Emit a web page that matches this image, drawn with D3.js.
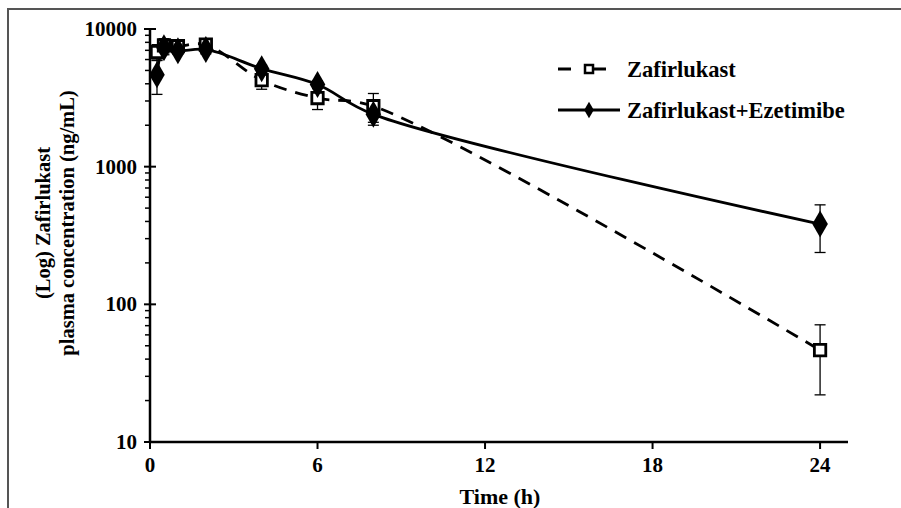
<!DOCTYPE html>
<html>
<head>
<meta charset="utf-8">
<script src="https://cdn.jsdelivr.net/npm/d3@7"></script>
<style>
  body { margin: 0; background: #fff; }
  text { font-family: "Liberation Serif", "Times New Roman", serif; font-weight: bold; fill: #000; }
</style>
</head>
<body>
<div id="chart"></div>
<script>
var times = [0.25, 0.5, 1, 2, 4, 6, 8, 24]
var zafMean = [6800, 7600, 7500, 7700, 4250, 3150, 2750, 46.5]
var zafSd = [900, 900, 500, 600, 600, 550, 650, 24.5]
var comboMean = [4650, 7300, 6950, 7100, 5150, 3950, 2400, 383]
var comboSd = [1300, 800, 400, 500, 300, 250, 400, 145]
var xTicks = [0, 6, 12, 18, 24]
var yTicks = [10, 100, 1000, 10000]
var seriesNames = ['Zafirlukast', 'Zafirlukast+Ezetimibe']

var width = 901
var height = 508

var svg = d3.select('#chart').append('svg')
  .attr('width', width)
  .attr('height', height)

// outer frame
svg.append('path')
  .attr('d', 'M8,' + height + 'V9H' + width)
  .attr('fill', 'none')
  .attr('stroke', '#555')
  .attr('stroke-width', 2)

var x = d3.scaleLinear().domain([0, 25]).range([150, 848])
var y = d3.scaleLog().domain([10, 10000]).range([442, 29])

// x axis
var xAxis = svg.append('g').attr('transform', 'translate(0,' + y(10) + ')')
xAxis.append('line')
  .attr('x1', x(0)).attr('x2', x(25))
  .attr('stroke', '#000').attr('stroke-width', 2.5)
xAxis.selectAll('.xt').data(xTicks).enter().append('line')
  .attr('x1', x).attr('x2', x)
  .attr('y1', 0).attr('y2', 7)
  .attr('stroke', '#000').attr('stroke-width', 2)
xAxis.selectAll('.xl').data(xTicks).enter().append('text')
  .attr('x', x).attr('y', 30)
  .attr('text-anchor', 'middle')
  .style('font-size', '21px')
  .text(function (d) { return d })

svg.append('text')
  .attr('x', 500).attr('y', 504)
  .attr('text-anchor', 'middle')
  .style('font-size', '22px')
  .text('Time (h)')

// y axis
var yAxis = svg.append('g').attr('transform', 'translate(' + x(0) + ',0)')
yAxis.append('line')
  .attr('y1', y(10)).attr('y2', y(10000))
  .attr('stroke', '#000').attr('stroke-width', 2.5)
var minor = []
for (var e = 10; e < 10000; e *= 10) {
  for (var m = 2; m < 10; m++) minor.push(e * m)
}
yAxis.selectAll('.ym').data(minor).enter().append('line')
  .attr('x1', -5).attr('x2', 0)
  .attr('y1', y).attr('y2', y)
  .attr('stroke', '#000').attr('stroke-width', 1.5)
yAxis.selectAll('.yt').data(yTicks).enter().append('line')
  .attr('x1', -6).attr('x2', 6)
  .attr('y1', y).attr('y2', y)
  .attr('stroke', '#000').attr('stroke-width', 2)
yAxis.selectAll('.yl').data(yTicks).enter().append('text')
  .attr('x', -13).attr('y', function (d) { return y(d) + 7 })
  .attr('text-anchor', 'end')
  .style('font-size', '21px')
  .text(function (d) { return d })

var yTitle = svg.append('text')
  .attr('transform', 'translate(0,223) rotate(-90)')
  .attr('text-anchor', 'middle')
  .style('font-size', '20.5px')
yTitle.append('tspan').attr('x', 0).attr('y', 50).text('(Log) Zafirlukast')
yTitle.append('tspan').attr('x', 0).attr('y', 74).text('plasma concentration (ng/mL)')

// series
var zafData = times.map(function (t, i) { return { t: t, v: zafMean[i], sd: zafSd[i] } })
var comboData = times.map(function (t, i) { return { t: t, v: comboMean[i], sd: comboSd[i] } })

var line = d3.line()
  .curve(d3.curveCatmullRom.alpha(0.5))
  .x(function (d) { return x(d.t) })
  .y(function (d) { return y(d.v) })

function errorBars (data) {
  var g = svg.append('g').attr('stroke', '#000').attr('stroke-width', 1.3)
  data.forEach(function (d) {
    var top = y(d.v + d.sd)
    var bot = y(d.v - d.sd)
    g.append('line').attr('x1', x(d.t)).attr('x2', x(d.t)).attr('y1', top).attr('y2', bot)
    g.append('line').attr('x1', x(d.t) - 5.5).attr('x2', x(d.t) + 5.5).attr('y1', top).attr('y2', top)
    g.append('line').attr('x1', x(d.t) - 5.5).attr('x2', x(d.t) + 5.5).attr('y1', bot).attr('y2', bot)
  })
}

errorBars(zafData)
errorBars(comboData)

svg.append('path')
  .datum(zafData)
  .attr('d', line)
  .attr('fill', 'none')
  .attr('stroke', '#000')
  .attr('stroke-width', 2.8)
  .attr('stroke-dasharray', '13,9')

svg.append('path')
  .datum(comboData)
  .attr('d', line)
  .attr('fill', 'none')
  .attr('stroke', '#000')
  .attr('stroke-width', 2.8)

var square = d3.symbol().type(d3.symbolSquare).size(130)
var diamond = d3.symbol().type(d3.symbolDiamond).size(210)

svg.selectAll('.sq').data(zafData).enter().append('path')
  .attr('d', square)
  .attr('transform', function (d) { return 'translate(' + x(d.t) + ',' + y(d.v) + ')' })
  .attr('fill', '#fff').attr('stroke', '#000').attr('stroke-width', 2.8)

svg.selectAll('.dm').data(comboData).enter().append('path')
  .attr('d', diamond)
  .attr('transform', function (d) { return 'translate(' + x(d.t) + ',' + y(d.v) + ')' })
  .attr('fill', '#000')

// legend
var legend = svg.append('g')
legend.append('line')
  .attr('x1', 558).attr('x2', 620).attr('y1', 69).attr('y2', 69)
  .attr('stroke', '#000').attr('stroke-width', 2.8).attr('stroke-dasharray', '13,22')
legend.append('path').attr('d', d3.symbol().type(d3.symbolSquare).size(64))
  .attr('transform', 'translate(589,69)')
  .attr('fill', '#fff').attr('stroke', '#000').attr('stroke-width', 2.5)
legend.append('line')
  .attr('x1', 558).attr('x2', 620).attr('y1', 110).attr('y2', 110)
  .attr('stroke', '#000').attr('stroke-width', 2.8)
legend.append('path').attr('d', d3.symbol().type(d3.symbolDiamond).size(80))
  .attr('transform', 'translate(589,110)')
  .attr('fill', '#000')
legend.selectAll('.lt').data(seriesNames).enter().append('text')
  .attr('x', 627).attr('y', function (d, i) { return 77 + i * 41 })
  .style('font-size', '22.5px')
  .text(function (d) { return d })
</script>
</body>
</html>
